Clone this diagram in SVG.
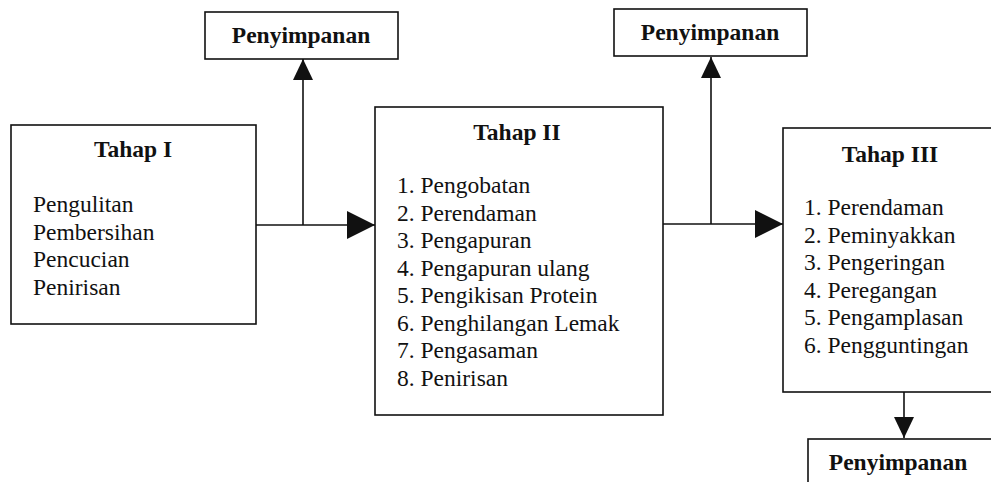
<svg xmlns="http://www.w3.org/2000/svg" width="991" height="482" viewBox="0 0 991 482">
<style>
.box{fill:#fff;stroke:#111;stroke-width:1.6}
.t{font-family:"Liberation Serif","Times New Roman",serif;font-size:23.5px;fill:#111}
.b{font-weight:bold;text-anchor:middle}
.line{fill:none;stroke:#111;stroke-width:1.6}
</style>
<defs>
<marker id="big" markerUnits="userSpaceOnUse" markerWidth="30" markerHeight="30" refX="28" refY="14" orient="auto" viewBox="0 0 30 30">
<path d="M0,0 L28,14 L0,28 Z" fill="#111"/>
</marker>
<marker id="small" markerUnits="userSpaceOnUse" markerWidth="24" markerHeight="24" refX="21" refY="10" orient="auto" viewBox="0 0 24 24">
<path d="M0,0 L21,10 L0,20 Z" fill="#111"/>
</marker>
</defs>
<rect width="991" height="482" fill="#fff"/>

<g id="connectors">
<path class="line" d="M256,225 H375" marker-end="url(#big)"/>
<path class="line" d="M303,225 V59" marker-end="url(#small)"/>
<path class="line" d="M663,224 H783" marker-end="url(#big)"/>
<path class="line" d="M711,224 V57" marker-end="url(#small)"/>
<path class="line" d="M904,392 V438" marker-end="url(#small)"/>
</g>

<g id="penyimpanan1">
<rect class="box" x="205" y="12" width="193" height="47"/>
<text class="t b" x="301" y="43">Penyimpanan</text>
</g>

<g id="penyimpanan2">
<rect class="box" x="614" y="9" width="193" height="47"/>
<text class="t b" x="710" y="40">Penyimpanan</text>
</g>

<g id="penyimpanan3">
<rect class="box" x="808" y="439" width="200" height="60"/>
<text class="t b" x="898" y="470">Penyimpanan</text>
</g>

<g id="tahap1">
<rect class="box" x="11" y="125" width="245" height="199"/>
<text class="t b" x="133" y="157">Tahap I</text>
<text class="t" x="33" y="212">Pengulitan</text>
<text class="t" x="33" y="239.5">Pembersihan</text>
<text class="t" x="33" y="267">Pencucian</text>
<text class="t" x="33" y="294.5">Penirisan</text>
</g>

<g id="tahap2">
<rect class="box" x="375" y="107" width="288" height="308"/>
<text class="t b" x="517" y="140">Tahap II</text>
<text class="t" x="397" y="193">1. Pengobatan</text>
<text class="t" x="397" y="220.5">2. Perendaman</text>
<text class="t" x="397" y="248">3. Pengapuran</text>
<text class="t" x="397" y="275.5">4. Pengapuran ulang</text>
<text class="t" x="397" y="303">5. Pengikisan Protein</text>
<text class="t" x="397" y="330.5">6. Penghilangan Lemak</text>
<text class="t" x="397" y="358">7. Pengasaman</text>
<text class="t" x="397" y="385.5">8. Penirisan</text>
</g>

<g id="tahap3">
<rect class="box" x="783" y="128" width="230" height="264"/>
<text class="t b" x="890" y="162">Tahap III</text>
<text class="t" x="804" y="215">1. Perendaman</text>
<text class="t" x="804" y="242.5">2. Peminyakkan</text>
<text class="t" x="804" y="270">3. Pengeringan</text>
<text class="t" x="804" y="297.5">4. Peregangan</text>
<text class="t" x="804" y="325">5. Pengamplasan</text>
<text class="t" x="804" y="352.5">6. Pengguntingan</text>
</g>
</svg>
